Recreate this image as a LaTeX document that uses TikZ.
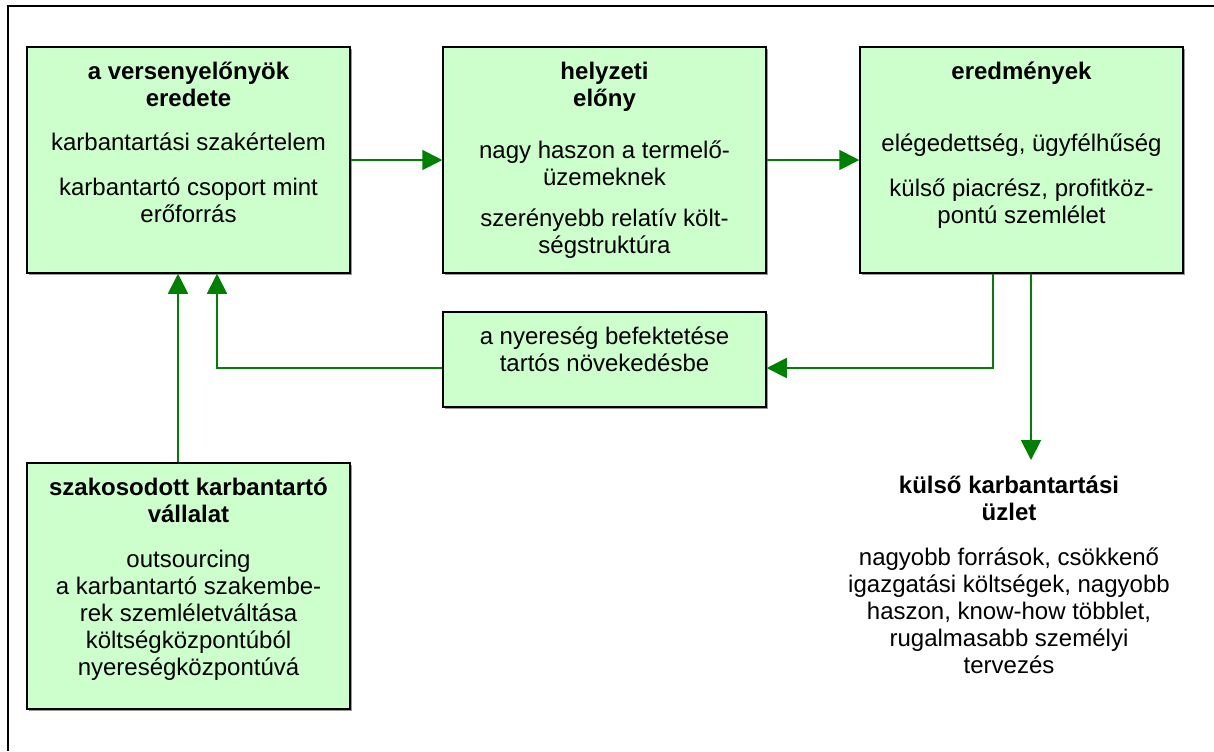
\documentclass[tikz,border=0pt]{standalone}
\usepackage{fontspec}
\setmainfont{Liberation Sans}
\usetikzlibrary{positioning,arrows.meta,shadows}
\definecolor{boxgreen}{HTML}{CCFFCC}
\definecolor{flowgreen}{HTML}{008000}
\begin{document}
\begin{tikzpicture}[x=0.5pt,y=-0.5pt,>={Triangle[length=10pt,width=10pt]},font=\fontsize{12}{13.5}\selectfont]
	\tikzset{box/.style={draw,line width=0.75pt,fill=boxgreen,minimum width=161.5pt,inner sep=0pt,
			drop shadow={shadow xshift=0.8pt,shadow yshift=-0.8pt,fill=black!40,opacity=1}},
		boxtext/.style={align=center,inner sep=0pt},
		flow/.style={->,color=flowgreen,line width=0.9pt}}
	\useasboundingbox (0,0) rectangle (1214,751);
	\draw[line width=1pt] (1214,6)--(8,6)--(8,751);
	% boxes
	\node[box,minimum height=113pt] (origin) at (188.5,160) {};
	\node[box,minimum height=113pt] (advantage) at (604.5,160) {};
	\node[box,minimum height=113pt] (results) at (1021.5,160) {};
	\node[box,minimum height=47.5pt] (invest) at (604.5,359.5) {};
	\node[box,minimum height=123pt] (specialist) at (188.5,586) {};
	% texts
	\node[boxtext,below=7.6pt of origin.north] (origintext) {\textbf{a versenyelőnyök}\\\textbf{eredete}\\[8.5pt]
		karbantartási szakértelem\\[9pt]karbantartó csoport mint\\erőforrás};
	\node[boxtext,below=7.6pt of advantage.north] (advantagetext) {\textbf{helyzeti}\\\textbf{előny}\\[12.5pt]
		nagy haszon a termelő-\\üzemeknek\\[7pt]szerényebb relatív költ-\\ségstruktúra};
	\node[boxtext,below=7.6pt of results.north] (resultstext) {\textbf{eredmények}\\[22.5pt]
		elégedettség, ügyfélhűség\\[9pt]külső piacrész, profitköz-\\pontú szemlélet};
	\node[boxtext,below=7.6pt of invest.north] (investtext) {a nyereség befektetése\\tartós növekedésbe};
	\node[boxtext,below=7.6pt of specialist.north] (specialisttext) {\textbf{szakosodott karbantartó}\\\textbf{vállalat}\\[9pt]
		outsourcing\\a karbantartó szakembe-\\rek szemléletváltása\\költségközpontúból\\nyereségközpontúvá};
	\node[boxtext,anchor=north] (external) at (1009,475) {\textbf{külső karbantartási}\\\textbf{üzlet}\\[9pt]
		nagyobb források, csökkenő\\igazgatási költségek, nagyobb\\haszon, know-how többlet,\\rugalmasabb személyi\\tervezés};
	\coordinate (externalin) at (1031,460);
	% connectors
	\draw[flow] (origin.east)--(advantage.west);
	\draw[flow] (advantage.east)--(results.west);
	\draw[flow] (results.south -| 993,0) |- (invest.east |- 0,368);
	\draw[flow] (invest.west |- 0,368) -| (origin.south -| 217,0);
	\draw[flow] (specialist.north -| 178,0)--(origin.south -| 178,0);
	\draw[flow] (results.south -| externalin)--(externalin);
\end{tikzpicture}
\end{document}
